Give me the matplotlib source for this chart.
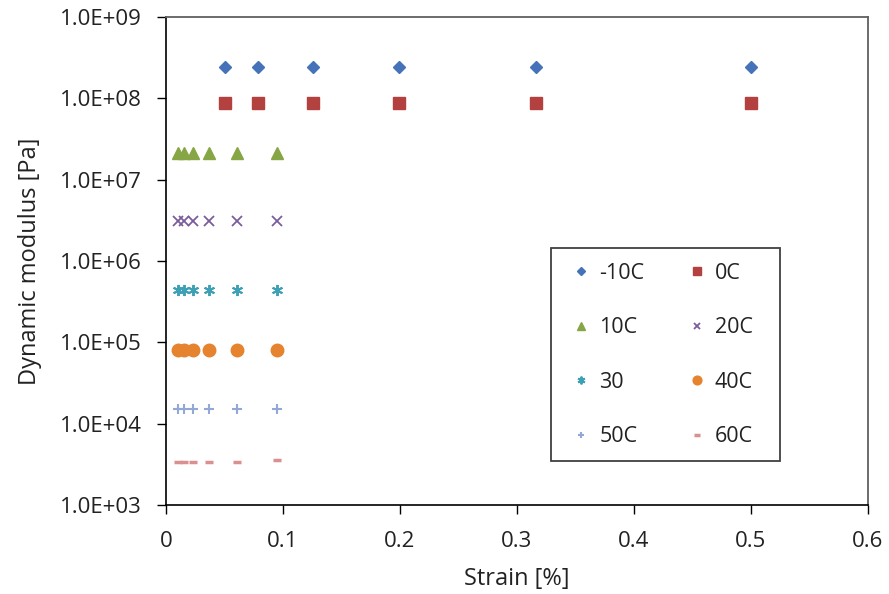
import numpy as np
import matplotlib.pyplot as plt
from matplotlib.patches import Rectangle

# strain values [%]
strain_cold = [0.05, 0.079, 0.126, 0.199, 0.316, 0.5]
strain_warm = [0.0105, 0.0155, 0.0235, 0.037, 0.0605, 0.095]

# dynamic modulus [Pa]
mod_m10 = [2.4e8, 2.4e8, 2.4e8, 2.4e8, 2.4e8, 2.4e8]
mod_0 = [8.7e7, 8.7e7, 8.7e7, 8.7e7, 8.7e7, 8.7e7]
mod_10 = [2.1e7, 2.1e7, 2.1e7, 2.1e7, 2.1e7, 2.1e7]
mod_20 = [3.1e6, 3.1e6, 3.1e6, 3.1e6, 3.1e6, 3.1e6]
mod_30 = [4.4e5, 4.4e5, 4.4e5, 4.4e5, 4.4e5, 4.4e5]
mod_40 = [8.1e4, 8.1e4, 8.1e4, 8.1e4, 8.1e4, 8.1e4]
mod_50 = [1.5e4, 1.5e4, 1.5e4, 1.5e4, 1.5e4, 1.5e4]
mod_60 = [3.4e3, 3.4e3, 3.4e3, 3.4e3, 3.4e3, 3.6e3]

labels = ['-10C', '0C', '10C', '20C', '30', '40C', '50C', '60C']

plt.rcParams['font.family'] = ['Open Sans', 'DejaVu Sans']

W, H = 889, 594
fig = plt.figure(figsize=(W / 100, H / 100), dpi=100)
# plot area: x 166..868 px, y 17..505 px
ax = fig.add_axes([166 / W, 1 - 505 / H, 702 / W, 488 / H])

series = [
    (strain_cold, mod_m10, 'D', '#4572b8', 6.5, 1),
    (strain_cold, mod_0, 's', '#b2413f', 8, 1),
    (strain_warm, mod_10, '^', '#86a545', 9, 1),
    (strain_warm, mod_20, 'x', '#7a5d9c', 6.5, 1.3),
    (strain_warm, mod_30, (6, 2, 0), '#3ea0b5', 8, 1.4),
    (strain_warm, mod_40, 'o', '#e5832f', 9, 1),
    (strain_warm, mod_50, '+', '#93a8d6', 7, 1.5),
    (strain_warm, mod_60, '_', '#d99091', 6, 2.5),
]

handles = []
for (x, y, m, c, s, lw), lab in zip(series, labels):
    h, = ax.plot(x, y, linestyle='none', marker=m, color=c, markersize=s,
                 markeredgewidth=lw, label=lab)
    handles.append(h)

ax.set_yscale('log')
ax.set_xlim(0, 0.6)
ax.set_ylim(1e3, 1e9)
ax.set_xticks(np.arange(0, 0.61, 0.1))
ax.set_xticklabels(['0', '0.1', '0.2', '0.3', '0.4', '0.5', '0.6'])
yt = [10.0 ** k for k in range(3, 10)]
ax.set_yticks(yt)
ax.set_yticklabels(['1.0E+%02d' % k for k in range(3, 10)])
ax.minorticks_off()
ax.tick_params(labelsize=16, direction='out', length=6.5, width=1,
               color='black', labelcolor='#222222')
ax.tick_params(axis='x', pad=12)
ax.tick_params(axis='y', pad=11)

for side in ['left', 'bottom']:
    ax.spines[side].set_color('black')
    ax.spines[side].set_linewidth(1.2)
for side in ['top', 'right']:
    ax.spines[side].set_color('#606060')
    ax.spines[side].set_linewidth(1.3)

ax.set_xlabel('Strain [%]', fontsize=17, color='#222222', labelpad=11)
ax.set_ylabel('Dynamic modulus [Pa]', fontsize=17, color='#222222', labelpad=13)

# legend frame: x 551..780 px, y 248..461 px
frame = Rectangle(((551 - 166) / 702, (505 - 461) / 488), 229 / 702, 213 / 488,
                  transform=ax.transAxes, facecolor='white', edgecolor='#404040',
                  linewidth=1.3, zorder=4)
ax.add_patch(frame)

# row-wise legend order (two columns)
order = [0, 2, 4, 6, 1, 3, 5, 7]
leg = ax.legend([handles[i] for i in order], [labels[i] for i in order],
                ncol=2, fontsize=15.5, loc='upper left',
                bbox_to_anchor=((565 - 166) / 702, (505 - 263) / 488),
                frameon=False, labelspacing=1.55, columnspacing=1.67,
                handletextpad=0.1, handlelength=1.5, borderpad=0,
                borderaxespad=0, markerscale=0.7, labelcolor='#222222')
leg.set_zorder(5)

fig.savefig('out.png', dpi=100)
